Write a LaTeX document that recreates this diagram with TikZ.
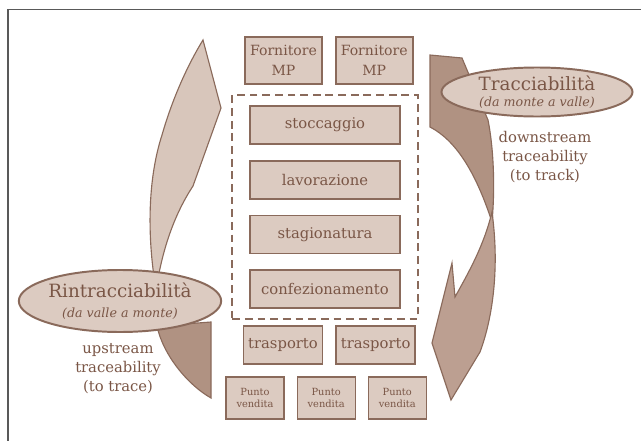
\documentclass[tikz,border=0pt]{standalone}
\usepackage{fontspec}
\setmainfont{DejaVu Serif}
\usetikzlibrary{positioning, shapes.geometric, fit}
\definecolor{brn}{HTML}{8A6A5B}
\definecolor{brnfill}{HTML}{DCCBC1}
\definecolor{brntext}{HTML}{7A5646}
\definecolor{arrlight}{HTML}{D8C6BB}
\definecolor{arrdark}{HTML}{B09282}
\definecolor{arrmid}{HTML}{BC9F91}
\tikzset{
  stage/.style ={rectangle, draw=brn, line width=1.2pt, fill=brnfill,
                 minimum width=3.75cm, minimum height=0.95cm, align=center,
                 text=brntext, font=\fontsize{10.5}{12}\selectfont},
  supplier/.style={stage, minimum width=1.925cm, minimum height=1.175cm,
                 font=\fontsize{10}{14}\selectfont},
  ship/.style  ={stage, minimum width=1.95cm},
  shop/.style  ={stage, line width=0.8pt, minimum width=1.45cm,
                 minimum height=1.05cm, font=\fontsize{7}{9}\selectfont},
  tag/.style   ={ellipse, draw=brn, line width=1.4pt, fill=brnfill,
                 inner sep=0pt, align=center, text=brntext},
  note/.style  ={align=center, text=brntext, font=\fontsize{10.5}{13.5}\selectfont},
  band/.style  ={draw=brn, line width=0.8pt}
}

\begin{document}
\begin{tikzpicture}[x=0.025cm, y=-0.025cm, node distance=0.375cm and 0.3cm]
    \useasboundingbox (0,0) rectangle (641,441);
    \draw[black!65, line width=1.1pt] (8,441) -- (8,9.5) -- (641,9.5);

    % curved arrows
    \draw[band, fill=arrlight] (203,40) -- (221,108) -- (193,186)
      .. controls (176,212) and (163,245) .. (156,290)
      .. controls (146,230) and (149,175) .. (162,135)
      .. controls (172,100) and (187,66) .. (203,40) -- cycle;
    \draw[band, fill=arrdark] (157,326) -- (211,322) -- (211,398)
      .. controls (188,385) and (163,355) .. (157,326) -- cycle;
    \draw[band, fill=arrdark] (430,55) -- (462,58) -- (488,120)
      .. controls (494,150) and (495,190) .. (492,222)
      .. controls (475,170) and (455,140) .. (430,127) -- cycle;
    \draw[band, fill=arrmid] (492,212)
      .. controls (500,270) and (492,320) .. (480,352) -- (451,400)
      -- (432,343) -- (452,263) -- (455,297)
      .. controls (470,270) and (484,245) .. (492,212) -- cycle;

    % suppliers
    \node[supplier] (mp1) at (283.5,60.5) {Fornitore\\MP};
    \node[supplier, right=of mp1] (mp2) {Fornitore\\MP};

    % plant
    \node[stage] (stock) at (325,125) {stoccaggio};
    \node[stage, below=of stock] (work) {lavorazione};
    \node[stage, below=of work] (aging) {stagionatura};
    \node[stage, below=of aging] (pack) {confezionamento};
    \node[draw=brn, line width=1.4pt, dash pattern=on 5.5pt off 3.5pt,
          inner xsep=0.42cm, inner ysep=0.25cm, fit=(stock)(pack)] (plant) {};

    % distribution
    \node[ship] (tr1) at (283,345) {trasporto};
    \node[ship, right=of tr1] (tr2) {trasporto};
    \node[shop] (pv1) at (255,398) {Punto\\vendita};
    \node[shop, right=of pv1] (pv2) {Punto\\vendita};
    \node[shop, right=of pv2] (pv3) {Punto\\vendita};

    % labels
    \node[tag, minimum width=4.775cm, minimum height=1.225cm] (track) at (537,92)
      {\fontsize{13}{15}\selectfont Tracciabilità\\[-1pt]
       \fontsize{9}{11}\selectfont\itshape (da monte a valle)};
    \node[note] (down) at (545,157) {downstream\\traceability\\(to track)};
    \node[tag, minimum width=4.75cm, minimum height=1.55cm] (trace) at (120,301)
      {\fontsize{13}{15}\selectfont Rintracciabilità\\[2pt]
       \fontsize{9}{11}\selectfont\itshape (da valle a monte)};
    \node[note] (up) at (118,369) {upstream\\traceability\\(to trace)};
  \end{tikzpicture}
\end{document}
